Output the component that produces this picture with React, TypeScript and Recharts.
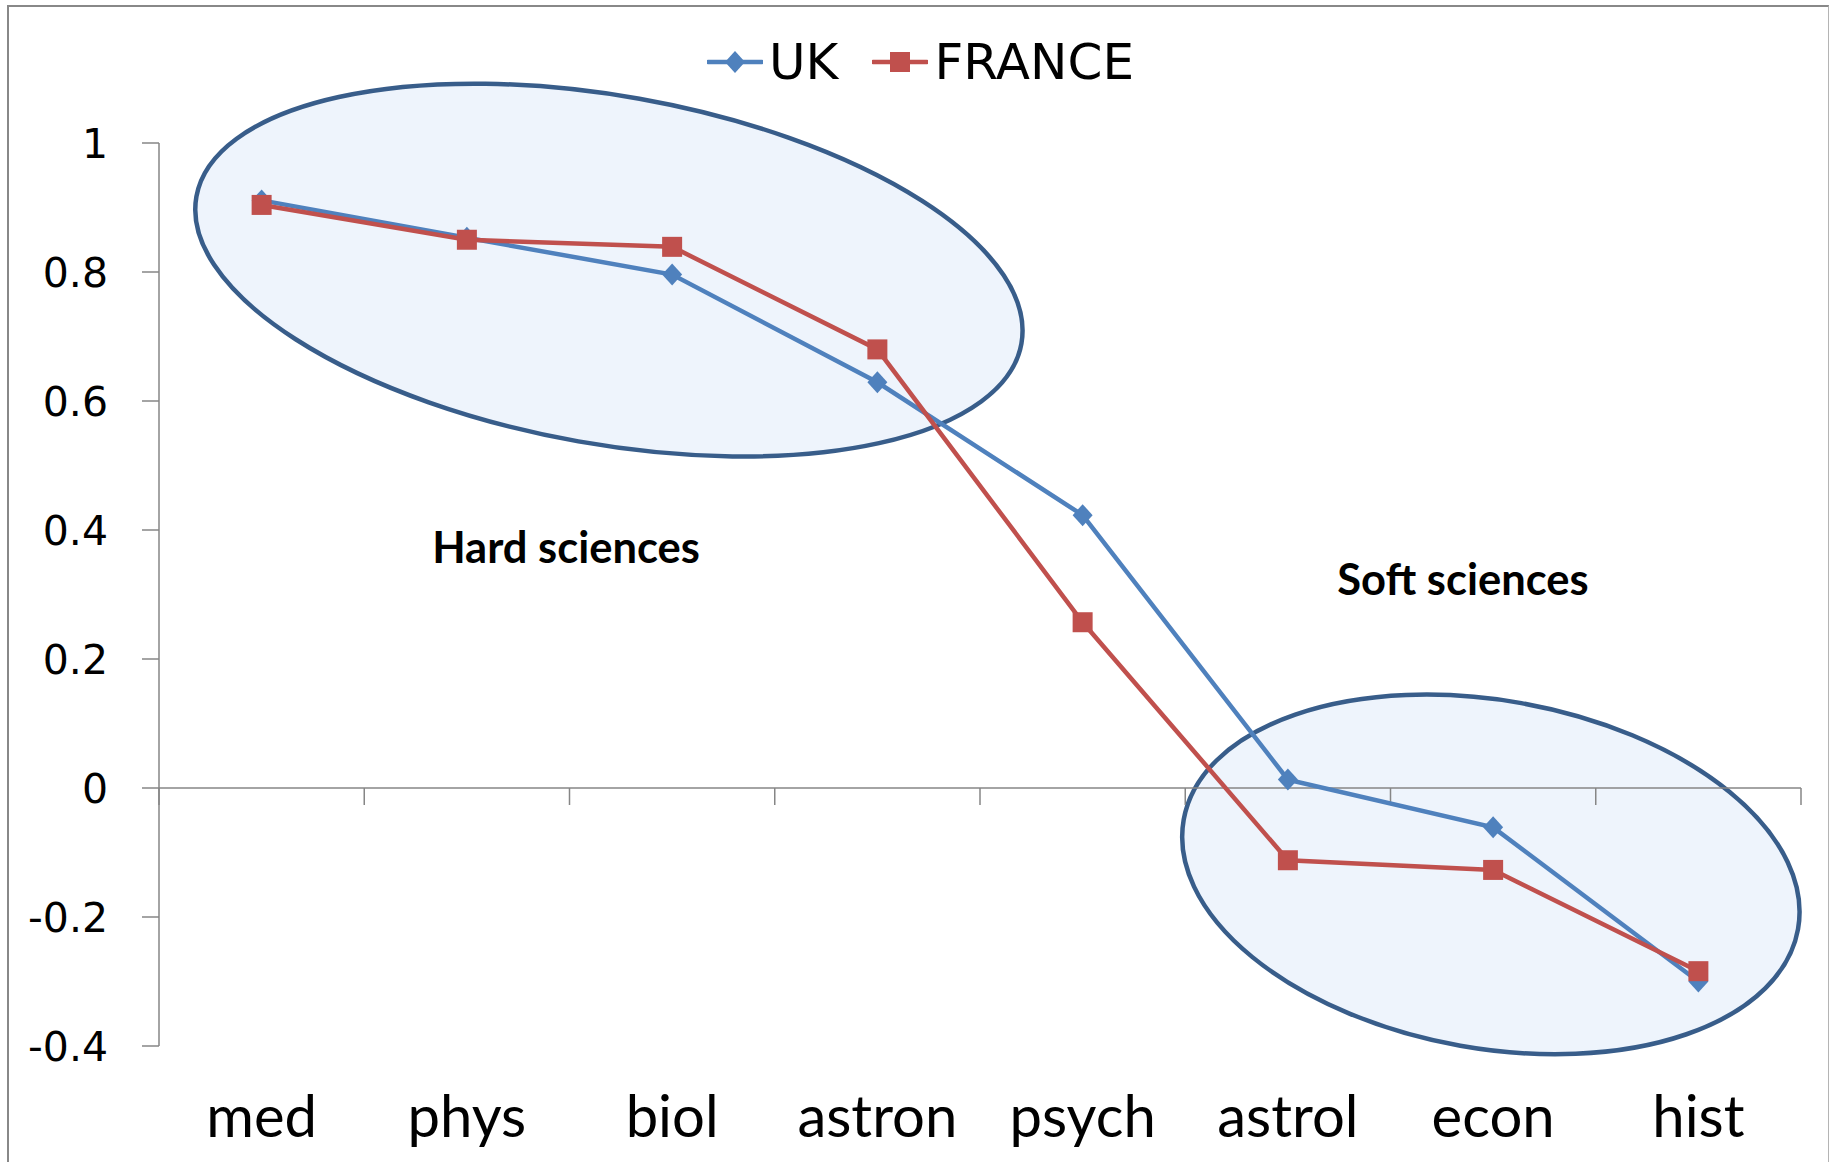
import React from 'react';
import {
  LineChart,
  Line,
  XAxis,
  YAxis,
  Legend,
  ReferenceLine,
  ReferenceDot,
} from 'recharts';

const categories = ['med', 'phys', 'biol', 'astron', 'psych', 'astrol', 'econ', 'hist'];
const ukValues = [0.911, 0.853, 0.796, 0.629, 0.423, 0.013, -0.061, -0.3];
const franceValues = [0.904, 0.85, 0.839, 0.68, 0.257, -0.112, -0.127, -0.284];
const yTicks = [-0.4, -0.2, 0, 0.2, 0.4, 0.6, 0.8, 1];
const groupNames = ['Hard sciences', 'Soft sciences'];

const UK_COLOR = '#4F81BD';
const FR_COLOR = '#C0504D';
const AXIS_COLOR = '#868686';

// annotation layout: ellipse centre / label in data units (x = category index), radii in px
const groupLayout = [
  { cx: 1.692, cy: 0.803, rx: 419, ry: 174, lx: 1.483, ly: 0.373 },
  { cx: 5.989, cy: -0.134, rx: 312, ry: 174, lx: 5.853, ly: 0.323 },
];

const data = categories.map((name, i) => ({
  idx: i,
  name,
  UK: ukValues[i],
  FRANCE: franceValues[i],
}));

const diamondPath = (cx: number, cy: number) =>
  `M${cx},${cy - 11}L${cx + 10},${cy}L${cx},${cy + 11}L${cx - 10},${cy}Z`;

const UkDot = (props: any) => {
  const { cx, cy, index } = props;
  if (cx == null || cy == null) return <g key={`uk-${index}`} />;
  return <path key={`uk-${index}`} d={diamondPath(cx, cy)} fill={UK_COLOR} />;
};

const FranceDot = (props: any) => {
  const { cx, cy, index } = props;
  if (cx == null || cy == null) return <g key={`fr-${index}`} />;
  return <rect key={`fr-${index}`} x={cx - 10} y={cy - 10} width={20} height={20} fill={FR_COLOR} />;
};

// horizontal category axis drawn at y = 0, with ticks between categories
const ZeroAxis = (p: any) => {
  const { x1, y1, x2 } = p;
  const step = (x2 - x1) / categories.length;
  return (
    <g>
      <line x1={x1} y1={y1} x2={x2} y2={y1} stroke={AXIS_COLOR} strokeWidth={1.5} />
      {Array.from({ length: categories.length + 1 }, (_, i) => (
        <line
          key={i}
          x1={x1 + i * step}
          x2={x1 + i * step}
          y1={y1}
          y2={y1 + 17}
          stroke={AXIS_COLOR}
          strokeWidth={1.5}
        />
      ))}
    </g>
  );
};

const series = [
  { name: 'UK', color: UK_COLOR, marker: 'diamond' },
  { name: 'FRANCE', color: FR_COLOR, marker: 'square' },
];

const renderLegend = () => (
  <div
    style={{
      display: 'flex',
      alignItems: 'center',
      fontFamily: '"DejaVu Sans", sans-serif',
      fontSize: 50,
      lineHeight: '56px',
      color: '#000',
      whiteSpace: 'nowrap',
    }}
  >
    {series.map((s, i) => (
      <div key={s.name} style={{ display: 'flex', alignItems: 'center', marginLeft: i ? 34 : 0 }}>
        <svg width={56} height={24} style={{ display: 'block' }}>
          <line x1={1} y1={12} x2={55} y2={12} stroke={s.color} strokeWidth={4.5} strokeLinecap="round" />
          {s.marker === 'diamond' ? (
            <path d={diamondPath(28, 12)} fill={s.color} />
          ) : (
            <rect x={18} y={2} width={20} height={20} fill={s.color} />
          )}
        </svg>
        <span style={{ marginLeft: 6 }}>{s.name}</span>
      </div>
    ))}
  </div>
);

export default function App() {
  return (
    <div style={{ position: 'absolute', left: 0, top: 0, width: 1829, height: 1162, overflow: 'hidden', background: '#fff' }}>
      <div
        style={{
          position: 'absolute',
          left: 7,
          top: 5,
          width: 1819,
          height: 1200,
          borderTop: '2px solid #888',
          borderLeft: '2px solid #888',
          borderRight: '1.5px solid #b4b4b4',
        }}
      />
      <div style={{ position: 'absolute', left: 0, top: 0 }}>
        <LineChart
          width={1829}
          height={1162}
          data={data}
          margin={{ top: 143, right: 28, left: 0, bottom: 0 }}
        >
          <XAxis
            dataKey="idx"
            type="number"
            domain={[-0.5, 7.5]}
            ticks={categories.map((_, i) => i)}
            tickFormatter={(v: number) => categories[v] ?? ''}
            interval={0}
            axisLine={false}
            tickLine={false}
            tickSize={0}
            tickMargin={50}
            height={116}
            tick={{ fontFamily: 'Lato, sans-serif', fontSize: 58, fill: '#000' }}
          />
          <YAxis
            domain={[-0.4, 1]}
            ticks={yTicks}
            interval={0}
            width={159}
            tickSize={17}
            tickMargin={34}
            axisLine={{ stroke: AXIS_COLOR, strokeWidth: 1.5 }}
            tickLine={{ stroke: AXIS_COLOR, strokeWidth: 1.5 }}
            tick={{ fontFamily: '"DejaVu Sans", sans-serif', fontSize: 41, fill: '#000' }}
          />
          {groupLayout.map((g, i) => (
            <ReferenceDot
              key={`ell-${i}`}
              x={g.cx}
              y={g.cy}
              ifOverflow="visible"
              zIndex={50}
              shape={(p: any) => (
                <ellipse
                  cx={p.cx}
                  cy={p.cy}
                  rx={g.rx}
                  ry={g.ry}
                  transform={`rotate(10.1 ${p.cx} ${p.cy})`}
                  fill="#EEF4FC"
                  stroke="#385D8A"
                  strokeWidth={4.5}
                />
              )}
            />
          ))}
          <ReferenceLine y={0} shape={ZeroAxis} />
          {groupLayout.map((g, i) => (
            <ReferenceDot
              key={`lbl-${i}`}
              x={g.lx}
              y={g.ly}
              ifOverflow="visible"
              shape={(p: any) => (
                <text
                  x={p.cx}
                  y={p.cy}
                  dy="0.35em"
                  textAnchor="middle"
                  fontFamily="Lato, sans-serif"
                  fontWeight={700}
                  fontSize={43.5}
                  fill="#000"
                >
                  {groupNames[i]}
                </text>
              )}
            />
          ))}
          <Legend
            layout="horizontal"
            verticalAlign="middle"
            align="center"
            content={renderLegend}
            wrapperStyle={{ top: 34, left: 707, width: 'auto' }}
          />
          <Line
            dataKey="UK"
            stroke={UK_COLOR}
            strokeWidth={4.5}
            dot={(p: any) => <UkDot {...p} key={`uk-${p.index}`} />}
            activeDot={false}
            isAnimationActive={false}
          />
          <Line
            dataKey="FRANCE"
            stroke={FR_COLOR}
            strokeWidth={4.5}
            dot={(p: any) => <FranceDot {...p} key={`fr-${p.index}`} />}
            activeDot={false}
            isAnimationActive={false}
          />
        </LineChart>
      </div>
    </div>
  );
}
